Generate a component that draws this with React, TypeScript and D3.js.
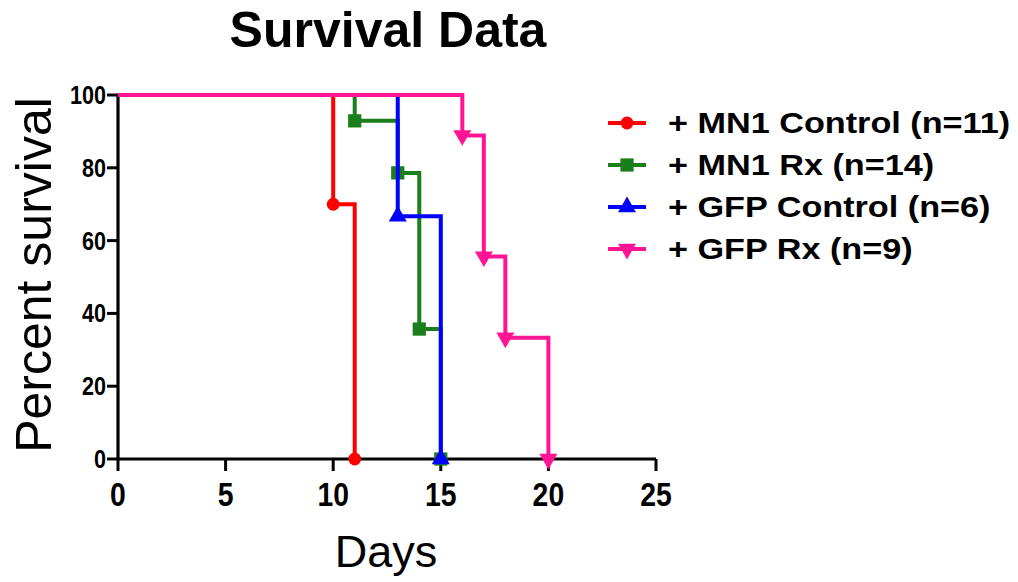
import React from "react";
import * as d3 from "d3";

const seriesNames = [
  "+ MN1 Control (n=11)",
  "+ MN1 Rx (n=14)",
  "+ GFP Control (n=6)",
  "+ GFP Rx (n=9)",
];
const seriesColors = ["#ff0000", "#1a7f1a", "#0000ff", "#ff1493"];
const mn1ControlDays = [0, 10, 11];
const mn1ControlSurvival = [100, 70, 0];
const mn1RxDays = [0, 11, 13, 14, 15];
const mn1RxSurvival = [100, 92.9, 78.6, 35.7, 0];
const gfpControlDays = [0, 13, 15];
const gfpControlSurvival = [100, 66.7, 0];
const gfpRxDays = [0, 16, 17, 18, 20];
const gfpRxSurvival = [100, 88.9, 55.6, 33.3, 0];
const xTicks = [0, 5, 10, 15, 20, 25];
const yTicks = [0, 20, 40, 60, 80, 100];

const allDays = [mn1ControlDays, mn1RxDays, gfpControlDays, gfpRxDays];
const allSurv = [mn1ControlSurvival, mn1RxSurvival, gfpControlSurvival, gfpRxSurvival];
const symbols = [
  { type: d3.symbolCircle, size: 130, rot: 0 },
  { type: d3.symbolSquare, size: 175, rot: 0 },
  { type: d3.symbolTriangle, size: 140, rot: 0 },
  { type: d3.symbolTriangle, size: 140, rot: 180 },
];

export default function App() {
  const W = 1018, H = 582;
  const x = d3.scaleLinear().domain([0, 25]).range([118, 656]);
  const y = d3.scaleLinear().domain([0, 100]).range([459, 95]);
  const font = "Liberation Sans, Arial, sans-serif";

  const stepPath = (ds: number[], ss: number[]) => {
    const p = d3.path();
    p.moveTo(x(ds[0]), y(ss[0]));
    for (let i = 1; i < ds.length; i++) {
      p.lineTo(x(ds[i]), y(ss[i - 1]));
      p.lineTo(x(ds[i]), y(ss[i]));
    }
    return p.toString();
  };

  const legendY = (i: number) => 123 + i * 42;

  return (
    <svg width={W} height={H} style={{ position: "absolute", left: 0, top: 0, background: "#fff" }}>
      <rect width={W} height={H} fill="#fff" />
      <text x={388} y={47} textAnchor="middle" fontFamily={font} fontWeight="bold" fontSize={50}>
        Survival Data
      </text>
      {/* axes */}
      <line x1={x(0)} x2={x(25)} y1={y(0)} y2={y(0)} stroke="#000" strokeWidth={3.2} />
      <line x1={x(0)} x2={x(0)} y1={y(0)} y2={y(100)} stroke="#000" strokeWidth={3.2} />
      {yTicks.map((t) => (
        <g key={"y" + t}>
          <line x1={x(0) - 11} x2={x(0)} y1={y(t)} y2={y(t)} stroke="#000" strokeWidth={3} />
          <text transform={`translate(${x(0) - 12},${y(t)}) scale(0.9,1.05)`} dy="0.36em" textAnchor="end"
            fontFamily={font} fontWeight="bold" fontSize={24}>
            {t}
          </text>
        </g>
      ))}
      {xTicks.map((t) => (
        <g key={"x" + t}>
          <line x1={x(t)} x2={x(t)} y1={y(0)} y2={y(0) + 12} stroke="#000" strokeWidth={3} />
          <text transform={`translate(${x(t)},506) scale(0.86,1)`} textAnchor="middle" fontFamily={font} fontWeight="bold" fontSize={33}>
            {t}
          </text>
        </g>
      ))}
      <text x={386} y={567} textAnchor="middle" fontFamily={font} fontSize={45}>
        Days
      </text>
      <text transform={`translate(51,275) rotate(-90)`} textAnchor="middle" fontFamily={font} fontSize={50}>
        Percent survival
      </text>
      {/* series */}
      {allDays.map((ds, i) => (
        <g key={"s" + i}>
          <path d={stepPath(ds, allSurv[i])} fill="none" stroke={seriesColors[i]} strokeWidth={4} />
          {ds.slice(1).map((d, j) => (
            <path key={j}
              d={d3.symbol(symbols[i].type, symbols[i].size)()!}
              transform={`translate(${x(d)},${y(allSurv[i][j + 1])}) rotate(${symbols[i].rot})`}
              fill={seriesColors[i]} />
          ))}
        </g>
      ))}
      {/* legend */}
      {seriesNames.map((n, i) => (
        <g key={"l" + i}>
          <line x1={608} x2={646} y1={legendY(i)} y2={legendY(i)} stroke={seriesColors[i]} strokeWidth={4} />
          <path d={d3.symbol(symbols[i].type, symbols[i].size)()!}
            transform={`translate(627,${legendY(i)}) rotate(${symbols[i].rot})`} fill={seriesColors[i]} />
          <text transform={`translate(668,${legendY(i)}) scale(1.18,1)`} dy="0.36em" fontFamily={font} fontWeight="bold" fontSize={29}>
            {n}
          </text>
        </g>
      ))}
    </svg>
  );
}
